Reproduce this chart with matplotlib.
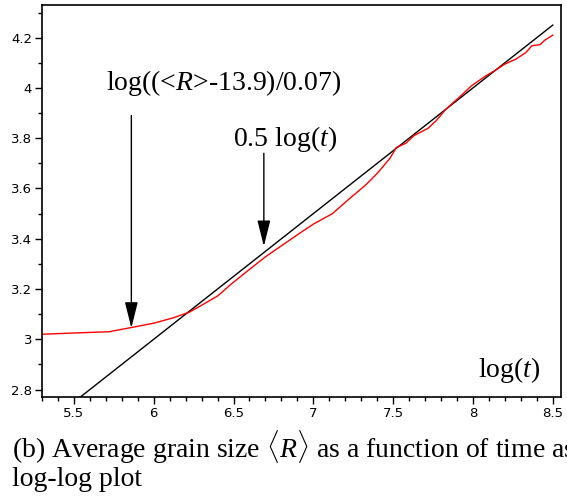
import matplotlib
matplotlib.use("Agg")
import matplotlib.pyplot as plt
from matplotlib.ticker import MultipleLocator, FormatStrFormatter

plt.rcParams['mathtext.fontset'] = 'custom'
plt.rcParams['mathtext.rm'] = 'Liberation Serif'
plt.rcParams['mathtext.it'] = 'Liberation Serif:italic'

# measured curve: log((<R>-13.9)/0.07) vs log(t)
logt = [5.30, 5.50, 5.72, 5.87, 6.00, 6.12, 6.22, 6.28, 6.40, 6.49, 6.60, 6.70,
        6.80, 6.91, 7.00, 7.12, 7.22, 7.33, 7.40, 7.48, 7.52, 7.58, 7.63, 7.72,
        7.77, 7.83, 7.93, 7.99, 8.08, 8.14, 8.20, 8.27, 8.33, 8.37, 8.42, 8.45, 8.50]
logR = [3.020, 3.025, 3.030, 3.048, 3.064, 3.085, 3.107, 3.128, 3.172, 3.222, 3.278, 3.328,
        3.372, 3.420, 3.458, 3.500, 3.556, 3.615, 3.660, 3.720, 3.763, 3.780, 3.810, 3.840,
        3.870, 3.915, 3.972, 4.008, 4.048, 4.070, 4.095, 4.115, 4.140, 4.168, 4.172, 4.190, 4.210]

# reference slope 0.5 log(t)
fit_x = [5.30, 8.50]
fit_y = [2.65, 4.25]

fig = plt.figure(figsize=(5.67, 4.97), dpi=100)
ax = fig.add_axes([0.074, 0.201, 0.915, 0.789])

ax.plot(fit_x, fit_y, color='black', lw=1.0)
ax.plot(logt, logR, color='red', lw=1.0)

ax.set_xlim(5.3, 8.55)
ax.set_ylim(2.77, 4.33)
ax.xaxis.set_major_locator(MultipleLocator(0.5))
ax.xaxis.set_minor_locator(MultipleLocator(0.1))
ax.yaxis.set_major_locator(MultipleLocator(0.2))
ax.yaxis.set_minor_locator(MultipleLocator(0.1))
ax.xaxis.set_major_formatter(FormatStrFormatter('%g'))
ax.yaxis.set_major_formatter(FormatStrFormatter('%g'))
ax.tick_params(which='major', direction='out', length=5, width=1, labelsize=9.5, pad=2)
ax.tick_params(which='minor', direction='out', length=3, width=1)
for s in ax.spines.values():
    s.set_linewidth(1.2)

serif = 'Liberation Serif'
head = '-|>,head_width=0.2,head_length=0.8'
ax.text(6.44, 3.99, r'log((<$R$>-13.9)/0.07)', fontsize=20, family=serif,
        ha='center', va='baseline')
ax.annotate('', xy=(5.86, 3.045), xytext=(5.86, 3.89),
            arrowprops=dict(arrowstyle=head, color='black', lw=1.0,
                            mutation_scale=20, shrinkA=0, shrinkB=0))
ax.text(6.82, 3.77, r'0.5 log($t$)', fontsize=20, family=serif,
        ha='center', va='baseline')
ax.annotate('', xy=(6.69, 3.37), xytext=(6.69, 3.74),
            arrowprops=dict(arrowstyle=head, color='black', lw=1.0,
                            mutation_scale=20, shrinkA=0, shrinkB=0))
ax.text(8.23, 2.85, r'log$(t)$', fontsize=20, family=serif,
        ha='center', va='baseline')

fig.text(0.021, 1 - 458 / 497, r'(b) Average grain size $\langle R\rangle$ as a function of time as',
         fontsize=20, family=serif, ha='left', va='baseline')
fig.text(0.021, 1 - 486 / 497, 'log-log plot', fontsize=20, family=serif,
         ha='left', va='baseline')

fig.savefig('out.png', dpi=100)
